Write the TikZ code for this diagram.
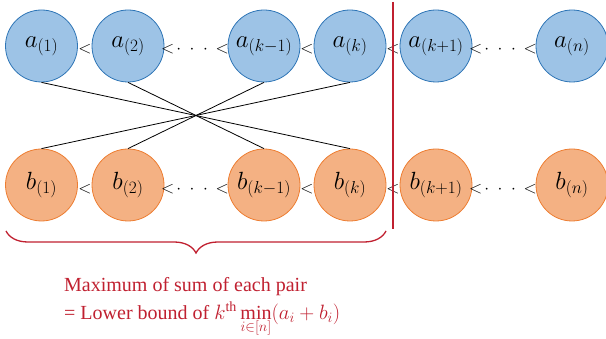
\documentclass[tikz,border=0pt]{standalone}
\usepackage{fontspec}
\setmainfont{Liberation Serif}
\usetikzlibrary{decorations.pathreplacing}
\definecolor{afill}{RGB}{157,195,230}
\definecolor{adraw}{RGB}{46,117,182}
\definecolor{bfill}{RGB}{244,177,131}
\definecolor{bdraw}{RGB}{237,125,49}
\definecolor{myred}{RGB}{192,32,48}
\tikzset{
  anode/.style={circle,draw=adraw,fill=afill,line width=0.8pt,minimum size=72pt,inner sep=0pt,font=\fontsize{24}{27}\selectfont},
  bnode/.style={circle,draw=bdraw,fill=bfill,line width=0.8pt,minimum size=72pt,inner sep=0pt,font=\fontsize{24}{27}\selectfont},
  lt/.style={font=\fontsize{16}{18}\selectfont,inner sep=0pt},
  cross/.style={draw=black,line width=0.8pt},
}
\begin{document}
\begin{tikzpicture}[x=1pt,y=-1pt]
\useasboundingbox (0,0) rectangle (606,339);
% top row
\node[anode] (a1) at (41.5,46) {$a_{(1)}$};
\node[anode] (a2) at (128,46) {$a_{(2)}$};
\node[anode] (ak1) at (264,46) {$a_{(k-1)}$};
\node[anode] (ak) at (350,46) {$a_{(k)}$};
\node[anode] (akp) at (436,46) {$a_{(k+1)}$};
\node[anode] (an) at (572,46) {$a_{(n)}$};
% bottom row
\node[bnode] (b1) at (41.5,185) {$b_{(1)}$};
\node[bnode] (b2) at (128,185) {$b_{(2)}$};
\node[bnode] (bk1) at (264,185) {$b_{(k-1)}$};
\node[bnode] (bk) at (350,185) {$b_{(k)}$};
\node[bnode] (bkp) at (436,185) {$b_{(k+1)}$};
\node[bnode] (bn) at (572,185) {$b_{(n)}$};
% relation signs
\foreach \y/\r in {49/a,189/b}{
  \node[lt] (\r lt1) at (85,\y) {$<$};
  \node[lt] (\r lt2) at (195,\y) {$<\!\cdot\;\cdot\;\cdot\,<$};
  \node[lt] (\r lt3) at (307,\y) {$<$};
  \node[lt] (\r lt4) at (393,\y) {$<$};
  \node[lt] (\r lt5) at (503,\y) {$<\!\cdot\;\cdot\;\cdot\,<$};
}
% cross connectors
\draw[cross] (a1.south) -- (bk.north);
\draw[cross] (a2.south) -- (bk1.north);
\draw[cross] (ak1.south) -- (b2.north);
\draw[cross] (ak.south) -- (b1.north);
% red divider
\coordinate (rtop) at (393,2);
\coordinate (rbot) at (393,229);
\draw[myred,line width=1.3pt] (rtop) -- (rbot);
% brace
\coordinate (bl) at (6,231);
\coordinate (br) at (386,231);
\draw[myred,line width=1.3pt,decorate,decoration={brace,mirror,amplitude=22pt}] (bl) -- (br);
% caption
\node[anchor=north west,inner sep=0pt,text=myred,font=\fontsize{20}{25}\selectfont,align=left] (cap) at (64,277)
  {Maximum of sum of each pair\\[3pt]
   = Lower bound of $k^{\mathrm{th}}\mathop{\mathrm{min}}\limits_{i\in[n]}(a_i+b_i)$};
\end{tikzpicture}
\end{document}
